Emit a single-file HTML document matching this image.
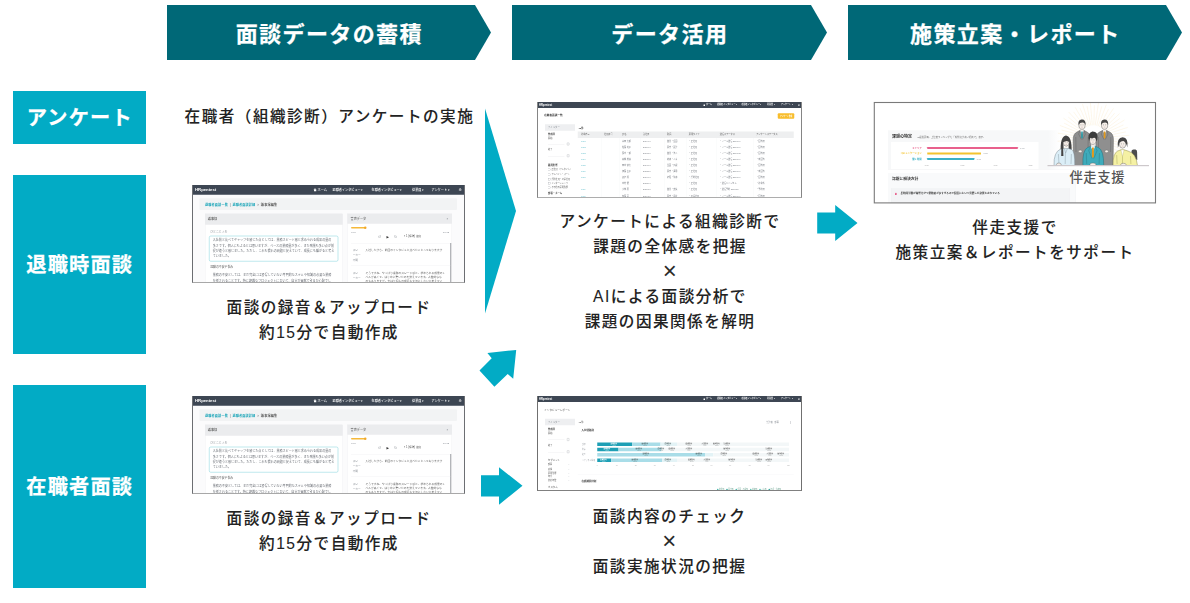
<!DOCTYPE html>
<html lang="ja">
<head>
<meta charset="utf-8">
<title>面談データ活用フロー</title>
<style>
html,body{margin:0;padding:0;background:#fff;}
body{width:1190px;height:603px;overflow:hidden;position:relative;font-family:"Liberation Sans","Noto Sans CJK JP",sans-serif;color:#222;}
#stage{position:absolute;left:0;top:0;width:1190px;height:603px;overflow:hidden;background:#fff;}
.banner{position:absolute;top:5px;height:55px;background:#006877;color:#fff;font-weight:700;font-size:22px;letter-spacing:1.4px;line-height:55px;text-align:center;white-space:nowrap;
  clip-path:polygon(0 0,calc(100% - 16px) 0,100% 50%,calc(100% - 16px) 100%,0 100%);}
.banner span{display:block;position:relative;top:1.6px;left:0.3px;-webkit-text-stroke:0.25px #fff;}
.label{position:absolute;left:13px;width:133px;background:#02abc5;color:#fff;font-weight:700;font-size:20.2px;letter-spacing:1.2px;text-align:center;white-space:nowrap;}
.label span{display:block;position:relative;top:1.2px;left:0.3px;-webkit-text-stroke:0.25px #fff;}
.txt{position:absolute;font-weight:500;font-size:15.6px;letter-spacing:1.48px;line-height:25px;text-align:center;white-space:nowrap;color:#222;padding-left:0.74px;-webkit-text-stroke:0.08px #222;}
.txt .x{display:inline-block;-webkit-text-stroke:0;color:#2a2a2a;font-size:24px;font-weight:400;letter-spacing:0;line-height:25px;height:25px;vertical-align:top;position:relative;top:-1.5px;left:-0.4px;}
svg.arrows{position:absolute;left:0;top:0;}
/* mock screenshots */
.shot{position:absolute;overflow:hidden;background:#fff;}
.shot .m{filter:blur(1.3px);}
.frame{position:absolute;box-sizing:border-box;border:1px solid #6c6e72;border-top:0;pointer-events:none;}
.m{position:absolute;left:0;top:0;transform:scale(.25);transform-origin:0 0;font-size:12.5px;line-height:1;color:#555;white-space:nowrap;overflow:hidden;}
.m *{box-sizing:border-box;}
.m .a{position:absolute;}
.m .bar{position:absolute;left:0;top:0;width:100%;background:#3d4653;color:#fff;}
.m .logo{position:absolute;font-weight:700;color:#fff;}
.m .nav{position:absolute;color:#fff;font-weight:500;}
.m .t{position:absolute;transform:translateY(-50%);}
.m .b{font-weight:700;color:#333;}
.m .teal{color:#1aa5b8;}
.m .g{color:#8a8f96;}
</style>
</head>
<body>
<div id="stage">

<!-- header banners -->
<div class="banner" style="left:167px;width:324px;"><span>面談データの蓄積</span></div>
<div class="banner" style="left:512px;width:315px;"><span>データ活用</span></div>
<div class="banner" style="left:848px;width:334px;"><span>施策立案・レポート</span></div>

<!-- row labels -->
<div class="label" style="top:91px;height:53px;line-height:53px;"><span>アンケート</span></div>
<div class="label" style="top:175px;height:179px;line-height:179px;"><span>退職時面談</span></div>
<div class="label" style="top:385px;height:203px;line-height:203px;"><span>在職者面談</span></div>

<!-- arrows -->
<svg class="arrows" width="1190" height="603" viewBox="0 0 1190 603" aria-hidden="true">
  <g fill="#02abc5">
    <polygon points="485,108.5 516,211 485,313.5"/>
    <polygon points="516.2,350 487.4,352.9 491.7,358.2 479.5,370.6 494.4,386.7 507.7,374.1 513.2,378.8"/>
    <polygon points="481,475.3 499,475.3 499,467.2 522.5,485.8 499,504.7 499,496.6 481,496.6"/>
    <polygon points="817.2,212.6 835.2,212.6 835.2,205.1 857.5,223.1 835.2,241.1 835.2,233.5 817.2,233.5"/>
  </g>
</svg>

<!-- captions -->
<div class="txt" style="left:178.7px;top:103.6px;width:300px;">在職者（組織診断）アンケートの実施</div>
<div class="txt" style="left:178.3px;top:295px;width:300px;">面談の録音＆アップロード<br>約15分で自動作成</div>
<div class="txt" style="left:178.3px;top:506px;width:300px;">面談の録音＆アップロード<br>約15分で自動作成</div>
<div class="txt" style="left:519.3px;top:209px;width:300px;">アンケートによる組織診断で<br>課題の全体感を把握<br><span class="x">×</span><br>AIによる面談分析で<br>課題の因果関係を解明</div>
<div class="txt" style="left:518.9px;top:504px;width:300px;">面談内容のチェック<br><span class="x">×</span><br>面談実施状況の把握</div>
<div class="txt" style="left:864.3px;top:215px;width:300px;">伴走支援で<br>施策立案＆レポートをサポート</div>


<!-- screenshot: interview minutes (retirement) -->
<div class="shot" style="left:192px;top:185px;width:273px;height:98px;">
<div class="m" style="width:1092px;height:392px;background:#fbfbfc;">
<div class="bar" style="height:38.5px;"></div>
<span class="t logo" style="left:12px;top:19.25px;font-size:17px;">HRpentest</span>
<span class="a" style="left:486px;top:13.2px;width:0;height:0;border-left:6.5px solid transparent;border-right:6.5px solid transparent;border-bottom:6.0px solid #fff;"></span>
<span class="a" style="left:488.0px;top:19.2px;width:9.0px;height:5.5px;background:#fff;"></span>
<span class="t nav" style="left:502.0px;top:19.25px;font-size:12.5px;">ホーム</span>
<span class="t nav" style="left:562px;top:19.25px;font-size:12.5px;">退職者インタビュー ▾</span>
<span class="t nav" style="left:718px;top:19.25px;font-size:12.5px;">在職者インタビュー ▾</span>
<span class="t nav" style="left:880px;top:19.25px;font-size:12.5px;">従業員 ▾</span>
<span class="t nav" style="left:958px;top:19.25px;font-size:12.5px;">アンケート ▾</span>
<span class="t nav" style="left:1066px;top:19.25px;font-size:14.5px;font-family:'DejaVu Sans',sans-serif;">⚙</span>
<div class="a" style="left:30px;top:53px;width:1030px;height:47px;background:#f2f3f4;border-radius:4px;"></div>
<span class="t " style="left:52px;top:79.5px;font-weight:700;letter-spacing:0.6px;"><span class="teal">退職者面談一覧</span><span class="g" style="margin:0 7px;">|</span><span class="teal">退職者面談詳細</span><span class="g" style="margin:0 7px;">&gt;</span><span style="color:#555">議事録編集</span></span>
<div class="a" style="left:52px;top:115px;width:551px;height:300px;background:#fff;border:1px solid #e2e3e6;"></div>
<div class="a" style="left:52px;top:115px;width:551px;height:44px;background:#ebecee;"></div>
<span class="t " style="left:63px;top:137px;color:#555;font-weight:500;">議事録</span>
<span class="t g" style="left:73px;top:188px;font-size:11.5px;">ひとことメモ</span>
<div class="a" style="left:68px;top:203px;width:517px;height:103px;background:#fff;border:2px solid #7fd0da;border-radius:7px;"></div>
<span class="t " style="left:83px;top:221.0px;font-size:12.2px;color:#6a6e75;">入社前と比べてギャップを感じた点としては、業務スピード感と求められる成果の量の</span>
<span class="t " style="left:83px;top:242.6px;font-size:12.2px;color:#6a6e75;">多さです。個人にもよるとは思いますが、ベースの業務量が多く、また残業も多い点が前</span>
<span class="t " style="left:83px;top:264.2px;font-size:12.2px;color:#6a6e75;">提が違うと感じました。ただし、これも慣れの問題と捉えていて、成長にも繋がると考え</span>
<span class="t " style="left:83px;top:285.8px;font-size:12.2px;color:#6a6e75;">ていました。</span>
<span class="t g" style="left:73px;top:329px;font-size:11.5px;color:#666;">退職の不安や悩み</span>
<span class="t " style="left:83px;top:361px;font-size:12.2px;color:#6a6e75;">業務の不安としては、まだ完全には習得していない専門的なスキルや知識の必要な業務</span>
<span class="t " style="left:83px;top:383px;font-size:12.2px;color:#6a6e75;">を任されることです。特に複雑なプロジェクトにおいて、自分が貢献できるか心配でし</span>
<div class="a" style="left:621px;top:115px;width:419px;height:300px;background:#fff;border:1px solid #e2e3e6;"></div>
<div class="a" style="left:621px;top:115px;width:419px;height:40px;background:#ebecee;"></div>
<span class="t " style="left:634px;top:135px;color:#555;">音声データ</span>
<span class="t g" style="left:1018px;top:135px;">×</span>
<div class="a" style="left:636px;top:168px;width:58px;height:6px;background:#f6b93b;border-radius:3px;"></div>
<div class="a" style="left:688px;top:166px;width:10px;height:10px;background:#f0a82a;border-radius:5px;"></div>
<span class="t g" style="left:636px;top:188px;font-size:10px;">0:00</span>
<span class="t g" style="left:1000px;top:188px;font-size:10px;">-16:32</span>
<span class="t g" style="left:744px;top:206px;font-size:15px;font-family:'DejaVu Sans',sans-serif;">↺</span>
<span class="t " style="left:778px;top:206px;font-size:13px;color:#333;font-family:'DejaVu Sans',sans-serif;">▶</span>
<span class="t g" style="left:808px;top:206px;font-size:15px;font-family:'DejaVu Sans',sans-serif;">↻</span>
<span class="t " style="left:847px;top:206px;font-size:10.5px;color:#555;">× 1 (標準) 速度</span>
<div class="a" style="left:636px;top:232px;width:398px;height:1px;background:#e4e5e8;"></div>
<div class="a" style="left:1033px;top:232px;width:4px;height:180px;background:#9a9da3;"></div>
<span class="t g" style="left:643px;top:261px;font-size:10.5px;">スピ</span>
<span class="t g" style="left:643px;top:281px;font-size:10.5px;">ーカー</span>
<span class="t g" style="left:643px;top:301px;font-size:10.5px;">不明</span>
<span class="t " style="left:694px;top:261px;font-size:11px;color:#666;">入社したから、前回のインタビュと比べたことってありますか</span>
<div class="a" style="left:636px;top:323px;width:398px;height:1px;background:#e4e5e8;"></div>
<span class="t g" style="left:643px;top:351px;font-size:10.5px;">スピ</span>
<span class="t g" style="left:643px;top:372px;font-size:10.5px;">ーカー</span>
<span class="t " style="left:694px;top:351.0px;font-size:11px;color:#666;">そうですね、やっぱり業務のスピード感と、求められる成果のレ</span>
<span class="t " style="left:694px;top:367.5px;font-size:11px;color:#666;">ベルが高くて、はじめに驚いたのを覚えています。人数的なも</span>
<span class="t " style="left:694px;top:384.0px;font-size:11px;color:#666;">のもありますが、やはり個人の成長も大切にしたいと考えてい</span>
</div></div>
<div class="frame" style="left:192px;top:185px;width:273px;height:98px;border-bottom-color:#a8a8a8;"></div>
<!-- screenshot: interview minutes (current staff) -->
<div class="shot" style="left:192px;top:396px;width:273px;height:98px;">
<div class="m" style="width:1092px;height:392px;background:#fbfbfc;">
<div class="bar" style="height:38.5px;"></div>
<span class="t logo" style="left:12px;top:19.25px;font-size:17px;">HRpentest</span>
<span class="a" style="left:486px;top:13.2px;width:0;height:0;border-left:6.5px solid transparent;border-right:6.5px solid transparent;border-bottom:6.0px solid #fff;"></span>
<span class="a" style="left:488.0px;top:19.2px;width:9.0px;height:5.5px;background:#fff;"></span>
<span class="t nav" style="left:502.0px;top:19.25px;font-size:12.5px;">ホーム</span>
<span class="t nav" style="left:562px;top:19.25px;font-size:12.5px;">退職者インタビュー ▾</span>
<span class="t nav" style="left:718px;top:19.25px;font-size:12.5px;">在職者インタビュー ▾</span>
<span class="t nav" style="left:880px;top:19.25px;font-size:12.5px;">従業員 ▾</span>
<span class="t nav" style="left:958px;top:19.25px;font-size:12.5px;">アンケート ▾</span>
<span class="t nav" style="left:1066px;top:19.25px;font-size:14.5px;font-family:'DejaVu Sans',sans-serif;">⚙</span>
<div class="a" style="left:30px;top:53px;width:1030px;height:47px;background:#f2f3f4;border-radius:4px;"></div>
<span class="t " style="left:52px;top:79.5px;font-weight:700;letter-spacing:0.6px;"><span class="teal">退職者面談一覧</span><span class="g" style="margin:0 7px;">|</span><span class="teal">退職者面談詳細</span><span class="g" style="margin:0 7px;">&gt;</span><span style="color:#555">議事録編集</span></span>
<div class="a" style="left:52px;top:115px;width:551px;height:300px;background:#fff;border:1px solid #e2e3e6;"></div>
<div class="a" style="left:52px;top:115px;width:551px;height:44px;background:#ebecee;"></div>
<span class="t " style="left:63px;top:137px;color:#555;font-weight:500;">議事録</span>
<span class="t g" style="left:73px;top:188px;font-size:11.5px;">ひとことメモ</span>
<div class="a" style="left:68px;top:203px;width:517px;height:103px;background:#fff;border:2px solid #7fd0da;border-radius:7px;"></div>
<span class="t " style="left:83px;top:221.0px;font-size:12.2px;color:#6a6e75;">入社前と比べてギャップを感じた点としては、業務スピード感と求められる成果の量の</span>
<span class="t " style="left:83px;top:242.6px;font-size:12.2px;color:#6a6e75;">多さです。個人にもよるとは思いますが、ベースの業務量が多く、また残業も多い点が前</span>
<span class="t " style="left:83px;top:264.2px;font-size:12.2px;color:#6a6e75;">提が違うと感じました。ただし、これも慣れの問題と捉えていて、成長にも繋がると考え</span>
<span class="t " style="left:83px;top:285.8px;font-size:12.2px;color:#6a6e75;">ていました。</span>
<span class="t g" style="left:73px;top:329px;font-size:11.5px;color:#666;">退職の不安や悩み</span>
<span class="t " style="left:83px;top:361px;font-size:12.2px;color:#6a6e75;">業務の不安としては、まだ完全には習得していない専門的なスキルや知識の必要な業務</span>
<span class="t " style="left:83px;top:383px;font-size:12.2px;color:#6a6e75;">を任されることです。特に複雑なプロジェクトにおいて、自分が貢献できるか心配でし</span>
<div class="a" style="left:621px;top:115px;width:419px;height:300px;background:#fff;border:1px solid #e2e3e6;"></div>
<div class="a" style="left:621px;top:115px;width:419px;height:40px;background:#ebecee;"></div>
<span class="t " style="left:634px;top:135px;color:#555;">音声データ</span>
<span class="t g" style="left:1018px;top:135px;">×</span>
<div class="a" style="left:636px;top:168px;width:58px;height:6px;background:#f6b93b;border-radius:3px;"></div>
<div class="a" style="left:688px;top:166px;width:10px;height:10px;background:#f0a82a;border-radius:5px;"></div>
<span class="t g" style="left:636px;top:188px;font-size:10px;">0:00</span>
<span class="t g" style="left:1000px;top:188px;font-size:10px;">-16:32</span>
<span class="t g" style="left:744px;top:206px;font-size:15px;font-family:'DejaVu Sans',sans-serif;">↺</span>
<span class="t " style="left:778px;top:206px;font-size:13px;color:#333;font-family:'DejaVu Sans',sans-serif;">▶</span>
<span class="t g" style="left:808px;top:206px;font-size:15px;font-family:'DejaVu Sans',sans-serif;">↻</span>
<span class="t " style="left:847px;top:206px;font-size:10.5px;color:#555;">× 1 (標準) 速度</span>
<div class="a" style="left:636px;top:232px;width:398px;height:1px;background:#e4e5e8;"></div>
<div class="a" style="left:1033px;top:232px;width:4px;height:180px;background:#9a9da3;"></div>
<span class="t g" style="left:643px;top:261px;font-size:10.5px;">スピ</span>
<span class="t g" style="left:643px;top:281px;font-size:10.5px;">ーカー</span>
<span class="t g" style="left:643px;top:301px;font-size:10.5px;">不明</span>
<span class="t " style="left:694px;top:261px;font-size:11px;color:#666;">入社したから、前回のインタビュと比べたことってありますか</span>
<div class="a" style="left:636px;top:323px;width:398px;height:1px;background:#e4e5e8;"></div>
<span class="t g" style="left:643px;top:351px;font-size:10.5px;">スピ</span>
<span class="t g" style="left:643px;top:372px;font-size:10.5px;">ーカー</span>
<span class="t " style="left:694px;top:351.0px;font-size:11px;color:#666;">そうですね、やっぱり業務のスピード感と、求められる成果のレ</span>
<span class="t " style="left:694px;top:367.5px;font-size:11px;color:#666;">ベルが高くて、はじめに驚いたのを覚えています。人数的なも</span>
<span class="t " style="left:694px;top:384.0px;font-size:11px;color:#666;">のもありますが、やはり個人の成長も大切にしたいと考えてい</span>
</div></div>
<div class="frame" style="left:192px;top:396px;width:273px;height:98px;border-bottom-color:#a8a8a8;"></div>
<!-- screenshot: survey list -->
<div class="shot" style="left:537px;top:102px;width:265px;height:96px;">
<div class="m" style="width:1060px;height:384px;background:#fff;font-size:9px;">
<div class="bar" style="height:24px;"></div>
<span class="t logo" style="left:8px;top:12.0px;font-size:10.5px;">HRpentest</span>
<span class="a" style="left:665px;top:8.1px;width:0;height:0;border-left:4.3px solid transparent;border-right:4.3px solid transparent;border-bottom:3.9px solid #fff;"></span>
<span class="a" style="left:666.3px;top:12.0px;width:5.9px;height:3.6px;background:#fff;"></span>
<span class="t nav" style="left:675.5px;top:12.0px;font-size:8.2px;">ホーム</span>
<span class="t nav" style="left:720px;top:12.0px;font-size:8.2px;">退職者インタビュー ▾</span>
<span class="t nav" style="left:818px;top:12.0px;font-size:8.2px;">在職者インタビュー ▾</span>
<span class="t nav" style="left:920px;top:12.0px;font-size:8.2px;">従業員 ▾</span>
<span class="t nav" style="left:976px;top:12.0px;font-size:8.2px;">アンケート ▾</span>
<span class="t nav" style="left:1043px;top:12.0px;font-size:10.2px;font-family:'DejaVu Sans',sans-serif;">⚙</span>
<span class="t b" style="left:29px;top:54px;font-size:10.5px;">在職者面談一覧</span>
<div class="a" style="left:963px;top:45px;width:66px;height:22px;background:#f8bd2c;border-radius:4px;"></div>
<span class="t " style="left:972px;top:56px;font-size:7px;color:#fff;font-weight:700;">アンケート作成</span>
<div class="a" style="left:32px;top:89px;width:120px;height:26px;background:#eeeff1;"></div>
<span class="t g" style="left:44px;top:102px;font-size:9.5px;">フィルター</span>
<span class="t b" style="left:44px;top:129px;font-size:9.5px;">作成日</span>
<span class="t " style="left:44px;top:144px;font-size:8.5px;color:#555;">開始</span>
<div class="a" style="left:44px;top:169px;width:66px;height:1px;background:#dcdde0;"></div>
<div class="a" style="left:120px;top:163px;width:9px;height:10px;border:1.5px solid #8a8f96;border-radius:1px;"></div>
<span class="t " style="left:44px;top:191px;font-size:8.5px;color:#555;">終了</span>
<div class="a" style="left:44px;top:216px;width:66px;height:1px;background:#dcdde0;"></div>
<div class="a" style="left:120px;top:210px;width:9px;height:10px;border:1.5px solid #8a8f96;border-radius:1px;"></div>
<span class="t b" style="left:44px;top:252px;font-size:9.5px;">雇用形態</span>
<div class="a" style="left:46px;top:267px;width:7px;height:7px;border:1px solid #8a8f96;"></div>
<span class="t " style="left:58px;top:271px;font-size:8.2px;color:#666;">正社員（フルタイム）</span>
<div class="a" style="left:46px;top:287px;width:7px;height:7px;border:1px solid #8a8f96;"></div>
<span class="t " style="left:58px;top:291px;font-size:8.2px;color:#666;">アルバイト・パート</span>
<div class="a" style="left:46px;top:306px;width:7px;height:7px;border:1px solid #8a8f96;"></div>
<span class="t " style="left:58px;top:310px;font-size:8.2px;color:#666;">契約社員・派遣社員</span>
<div class="a" style="left:46px;top:322px;width:7px;height:7px;border:1px solid #8a8f96;"></div>
<span class="t " style="left:58px;top:326px;font-size:8.2px;color:#666;">インターンシップ</span>
<div class="a" style="left:46px;top:339px;width:7px;height:7px;border:1px solid #8a8f96;"></div>
<span class="t " style="left:58px;top:343px;font-size:8.2px;color:#666;">その他の雇用形態</span>
<span class="t b" style="left:44px;top:366px;font-size:9.5px;">部署・チーム</span>
<span class="t b" style="left:166px;top:103px;font-size:9.5px;">12件</span>
<div class="a" style="left:163px;top:118px;width:864px;height:26px;background:#eeeff0;"></div>
<span class="t " style="left:176px;top:131px;font-size:8.6px;color:#666;">対象者ID</span>
<span class="t " style="left:268px;top:131px;font-size:8.6px;color:#666;">社員番号</span>
<span class="t " style="left:340px;top:131px;font-size:8.6px;color:#666;">氏名</span>
<span class="t " style="left:424px;top:131px;font-size:8.6px;color:#666;">入社日</span>
<span class="t " style="left:520px;top:131px;font-size:8.6px;color:#666;">所属</span>
<span class="t " style="left:607px;top:131px;font-size:8.6px;color:#666;">雇用タイプ</span>
<span class="t " style="left:731px;top:131px;font-size:8.6px;color:#666;">送信ステータス</span>
<span class="t " style="left:877px;top:131px;font-size:8.6px;color:#666;">アンケートステータス</span>
<div class="a" style="left:256px;top:144px;width:1px;height:240px;background:#eef0f2;"></div>
<div class="a" style="left:330px;top:144px;width:1px;height:240px;background:#eef0f2;"></div>
<div class="a" style="left:414px;top:144px;width:1px;height:240px;background:#eef0f2;"></div>
<div class="a" style="left:508px;top:144px;width:1px;height:240px;background:#eef0f2;"></div>
<div class="a" style="left:596px;top:144px;width:1px;height:240px;background:#eef0f2;"></div>
<div class="a" style="left:718px;top:144px;width:1px;height:240px;background:#eef0f2;"></div>
<div class="a" style="left:866px;top:144px;width:1px;height:240px;background:#eef0f2;"></div>
<span class="t " style="left:176px;top:157.0px;font-size:8.4px;color:#6cc3cf;">1021</span>
<span class="t " style="left:340px;top:157.0px;font-size:8.4px;color:#777b82;">山田 太郎</span>
<span class="t " style="left:424px;top:157.0px;font-size:8.4px;color:#777b82;">2019/04</span>
<span class="t " style="left:520px;top:157.0px;font-size:8.4px;color:#777b82;">営業・企画</span>
<span class="t " style="left:607px;top:157.0px;font-size:8.4px;color:#777b82;">・正社員</span>
<span class="t " style="left:731px;top:157.0px;font-size:8.4px;color:#777b82;">・メール送信 2024/04</span>
<span class="t " style="left:877px;top:157.0px;font-size:8.4px;color:#777b82;">・回答済</span>
<span class="t " style="left:176px;top:181.3px;font-size:8.4px;color:#6cc3cf;">1022</span>
<span class="t " style="left:340px;top:181.3px;font-size:8.4px;color:#777b82;">佐藤 花子</span>
<span class="t " style="left:424px;top:181.3px;font-size:8.4px;color:#777b82;">2020/04</span>
<span class="t " style="left:520px;top:181.3px;font-size:8.4px;color:#777b82;">開発・設計</span>
<span class="t " style="left:607px;top:181.3px;font-size:8.4px;color:#777b82;">・正社員</span>
<span class="t " style="left:731px;top:181.3px;font-size:8.4px;color:#777b82;">・メール送信 2024/04</span>
<span class="t " style="left:877px;top:181.3px;font-size:8.4px;color:#777b82;">・回答済</span>
<span class="t " style="left:176px;top:205.6px;font-size:8.4px;color:#6cc3cf;">1023</span>
<span class="t " style="left:340px;top:205.6px;font-size:8.4px;color:#777b82;">鈴木 一郎</span>
<span class="t " style="left:424px;top:205.6px;font-size:8.4px;color:#777b82;">2018/10</span>
<span class="t " style="left:520px;top:205.6px;font-size:8.4px;color:#777b82;">営業・法人</span>
<span class="t " style="left:607px;top:205.6px;font-size:8.4px;color:#777b82;">・正社員</span>
<span class="t " style="left:731px;top:205.6px;font-size:8.4px;color:#777b82;">・メール送信 2024/03</span>
<span class="t " style="left:877px;top:205.6px;font-size:8.4px;color:#777b82;">・回答済</span>
<span class="t " style="left:176px;top:229.9px;font-size:8.4px;color:#6cc3cf;">1024</span>
<span class="t " style="left:340px;top:229.9px;font-size:8.4px;color:#777b82;">高橋 美咲</span>
<span class="t " style="left:424px;top:229.9px;font-size:8.4px;color:#777b82;">2021/04</span>
<span class="t " style="left:520px;top:229.9px;font-size:8.4px;color:#777b82;">総務・人事</span>
<span class="t " style="left:607px;top:229.9px;font-size:8.4px;color:#777b82;">・正社員</span>
<span class="t " style="left:731px;top:229.9px;font-size:8.4px;color:#777b82;">・メール送信 2024/04</span>
<span class="t " style="left:877px;top:229.9px;font-size:8.4px;color:#777b82;">・未回答</span>
<span class="t " style="left:176px;top:254.2px;font-size:8.4px;color:#6cc3cf;">1025</span>
<span class="t " style="left:340px;top:254.2px;font-size:8.4px;color:#777b82;">田中 健太</span>
<span class="t " style="left:424px;top:254.2px;font-size:8.4px;color:#777b82;">2017/04</span>
<span class="t " style="left:520px;top:254.2px;font-size:8.4px;color:#777b82;">企画・広報</span>
<span class="t " style="left:607px;top:254.2px;font-size:8.4px;color:#777b82;">・正社員</span>
<span class="t " style="left:731px;top:254.2px;font-size:8.4px;color:#777b82;">・メール送信 2024/04</span>
<span class="t " style="left:877px;top:254.2px;font-size:8.4px;color:#777b82;">・回答済</span>
<span class="t " style="left:176px;top:278.5px;font-size:8.4px;color:#6cc3cf;">1026</span>
<span class="t " style="left:340px;top:278.5px;font-size:8.4px;color:#777b82;">伊藤 直子</span>
<span class="t " style="left:424px;top:278.5px;font-size:8.4px;color:#777b82;">2022/10</span>
<span class="t " style="left:520px;top:278.5px;font-size:8.4px;color:#777b82;">開発・運用</span>
<span class="t " style="left:607px;top:278.5px;font-size:8.4px;color:#777b82;">・正社員</span>
<span class="t " style="left:731px;top:278.5px;font-size:8.4px;color:#777b82;">・メール送信 2024/04</span>
<span class="t " style="left:877px;top:278.5px;font-size:8.4px;color:#777b82;">・未回答</span>
<span class="t " style="left:176px;top:302.8px;font-size:8.4px;color:#6cc3cf;">1027</span>
<span class="t " style="left:340px;top:302.8px;font-size:8.4px;color:#777b82;">渡辺 翔</span>
<span class="t " style="left:424px;top:302.8px;font-size:8.4px;color:#777b82;">2016/04</span>
<span class="t " style="left:520px;top:302.8px;font-size:8.4px;color:#777b82;">経理・財務</span>
<span class="t " style="left:607px;top:302.8px;font-size:8.4px;color:#777b82;">・契約社員</span>
<span class="t " style="left:731px;top:302.8px;font-size:8.4px;color:#777b82;">・メール送信 2024/04</span>
<span class="t " style="left:877px;top:302.8px;font-size:8.4px;color:#777b82;">・回答済</span>
<span class="t " style="left:340px;top:327.1px;font-size:8.4px;color:#777b82;">中村 優</span>
<span class="t " style="left:424px;top:327.1px;font-size:8.4px;color:#777b82;">2023/04</span>
<span class="t " style="left:607px;top:327.1px;font-size:8.4px;color:#777b82;">・正社員</span>
<span class="t " style="left:731px;top:327.1px;font-size:8.4px;color:#777b82;">・送信キャンセル</span>
<span class="t " style="left:877px;top:327.1px;font-size:8.4px;color:#777b82;">・対象外</span>
<span class="t " style="left:176px;top:351.4px;font-size:8.4px;color:#6cc3cf;">1029</span>
<span class="t " style="left:340px;top:351.4px;font-size:8.4px;color:#777b82;">小林 葵</span>
<span class="t " style="left:424px;top:351.4px;font-size:8.4px;color:#777b82;">2020/10</span>
<span class="t " style="left:520px;top:351.4px;font-size:8.4px;color:#777b82;">営業・支援</span>
<span class="t " style="left:607px;top:351.4px;font-size:8.4px;color:#777b82;">・正社員</span>
<span class="t " style="left:731px;top:351.4px;font-size:8.4px;color:#777b82;">・送信予約 2024/05</span>
<span class="t " style="left:877px;top:351.4px;font-size:8.4px;color:#777b82;">・予約済</span>
<span class="t " style="left:176px;top:375.7px;font-size:8.4px;color:#6cc3cf;">1030</span>
<span class="t " style="left:340px;top:375.7px;font-size:8.4px;color:#777b82;">加藤 蓮</span>
<span class="t " style="left:424px;top:375.7px;font-size:8.4px;color:#777b82;">2019/10</span>
<span class="t " style="left:520px;top:375.7px;font-size:8.4px;color:#777b82;">開発・品質</span>
<span class="t " style="left:607px;top:375.7px;font-size:8.4px;color:#777b82;">・派遣社員</span>
<span class="t " style="left:731px;top:375.7px;font-size:8.4px;color:#777b82;">・メール送信 2024/04</span>
<span class="t " style="left:877px;top:375.7px;font-size:8.4px;color:#777b82;">・回答済</span>
</div></div>
<div class="frame" style="left:537px;top:102px;width:265px;height:96px;border-color:#858585;border-bottom-color:#adadad;"></div>
<!-- screenshot: interview report -->
<div class="shot" style="left:537px;top:396px;width:265px;height:95px;">
<div class="m" style="width:1060px;height:380px;background:#fff;font-size:9px;">
<div class="bar" style="height:24px;"></div>
<span class="t logo" style="left:8px;top:12.0px;font-size:10.5px;">HRpentest</span>
<span class="a" style="left:665px;top:8.1px;width:0;height:0;border-left:4.3px solid transparent;border-right:4.3px solid transparent;border-bottom:3.9px solid #fff;"></span>
<span class="a" style="left:666.3px;top:12.0px;width:5.9px;height:3.6px;background:#fff;"></span>
<span class="t nav" style="left:675.5px;top:12.0px;font-size:8.2px;">ホーム</span>
<span class="t nav" style="left:720px;top:12.0px;font-size:8.2px;">退職者インタビュー ▾</span>
<span class="t nav" style="left:818px;top:12.0px;font-size:8.2px;">在職者インタビュー ▾</span>
<span class="t nav" style="left:920px;top:12.0px;font-size:8.2px;">従業員 ▾</span>
<span class="t nav" style="left:976px;top:12.0px;font-size:8.2px;">アンケート ▾</span>
<span class="t nav" style="left:1043px;top:12.0px;font-size:10.2px;font-family:'DejaVu Sans',sans-serif;">⚙</span>
<span class="t " style="left:29px;top:56px;font-size:10.5px;color:#555;">インタビューレポート</span>
<div class="a" style="left:32px;top:91px;width:120px;height:26px;background:#eeeff1;"></div>
<span class="t g" style="left:44px;top:104px;font-size:9.5px;">フィルター</span>
<span class="t b" style="left:44px;top:133px;font-size:9.5px;">作成日</span>
<span class="t " style="left:44px;top:150px;font-size:8.5px;color:#555;">開始</span>
<div class="a" style="left:44px;top:175px;width:66px;height:1px;background:#dcdde0;"></div>
<div class="a" style="left:120px;top:169px;width:9px;height:10px;border:1.5px solid #8a8f96;border-radius:1px;"></div>
<span class="t " style="left:44px;top:197px;font-size:8.5px;color:#555;">終了</span>
<div class="a" style="left:44px;top:224px;width:66px;height:1px;background:#dcdde0;"></div>
<div class="a" style="left:120px;top:218px;width:9px;height:10px;border:1.5px solid #8a8f96;border-radius:1px;"></div>
<span class="t " style="left:44px;top:257px;font-size:9.5px;color:#555;">セグメント</span>
<span class="t " style="left:44px;top:275px;font-size:8.4px;color:#666;">部署</span>
<span class="t g" style="left:124px;top:275px;font-size:8px;">⌄</span>
<span class="t " style="left:44px;top:292px;font-size:8.4px;color:#666;">職種</span>
<span class="t g" style="left:124px;top:292px;font-size:8px;">⌄</span>
<span class="t " style="left:44px;top:308px;font-size:8.4px;color:#666;">雇用形態</span>
<span class="t g" style="left:124px;top:308px;font-size:8px;">⌄</span>
<span class="t " style="left:44px;top:323px;font-size:8.4px;color:#666;">年代</span>
<span class="t g" style="left:124px;top:323px;font-size:8px;">⌄</span>
<span class="t " style="left:44px;top:339px;font-size:8.4px;color:#666;">勤続年数</span>
<span class="t g" style="left:124px;top:339px;font-size:8px;">⌄</span>
<span class="t " style="left:44px;top:365px;font-size:9.5px;color:#555;">カスタム</span>
<span class="t " style="left:166px;top:104px;font-size:9.5px;color:#555;">12件</span>
<span class="t g" style="left:917px;top:104px;font-size:8.4px;">集計軸　部署</span>
<span class="t g" style="left:1008px;top:104px;font-size:10px;">⋮</span>
<span class="t b" style="left:178px;top:137px;font-size:10px;">入社経路別</span>
<span class="t g" style="left:180px;top:193px;font-size:7.5px;color:#a0a4aa;">新卒</span>
<div class="a" style="left:241px;top:186px;width:140px;height:14px;background:#1d9fb5;"></div>
<div class="a" style="left:381px;top:186px;width:113px;height:14px;background:#a9dde8;"></div>
<div class="a" style="left:494px;top:186px;width:66px;height:14px;background:#e3f3f6;"></div>
<div class="a" style="left:560px;top:186px;width:448px;height:14px;background:#f3f7f8;"></div>
<span class="t g" style="left:180px;top:214px;font-size:7.5px;color:#a0a4aa;">中途</span>
<div class="a" style="left:241px;top:207px;width:85px;height:14px;background:#1d9fb5;"></div>
<div class="a" style="left:326px;top:207px;width:172px;height:14px;background:#a9dde8;"></div>
<div class="a" style="left:498px;top:207px;width:510px;height:14px;background:#f3f7f8;"></div>
<span class="t g" style="left:180px;top:235px;font-size:7.5px;color:#a0a4aa;">紹介</span>
<div class="a" style="left:241px;top:228px;width:431px;height:14px;background:#a9dde8;"></div>
<div class="a" style="left:672px;top:228px;width:33px;height:14px;background:#e3f3f6;"></div>
<div class="a" style="left:705px;top:228px;width:303px;height:14px;background:#f3f7f8;"></div>
<span class="t g" style="left:180px;top:257px;font-size:7.5px;color:#a0a4aa;">リファラル採用</span>
<div class="a" style="left:241px;top:250px;width:56px;height:14px;background:#1d9fb5;"></div>
<div class="a" style="left:297px;top:250px;width:204px;height:14px;background:#a9dde8;"></div>
<div class="a" style="left:501px;top:250px;width:59px;height:14px;background:#e3f3f6;"></div>
<div class="a" style="left:560px;top:250px;width:448px;height:14px;background:#f3f7f8;"></div>
<span class="t " style="left:294px;top:190px;font-size:6.6px;font-weight:700;color:#fff;">営業部門</span>
<span class="t " style="left:302px;top:197px;font-size:5px;color:#fff;opacity:.7;">18.0%</span>
<span class="t " style="left:418px;top:190px;font-size:6.6px;font-weight:700;color:#566;">開発部門</span>
<span class="t " style="left:426px;top:197px;font-size:5px;color:#566;opacity:.7;">25.0%</span>
<span class="t " style="left:510px;top:190px;font-size:6.6px;font-weight:700;color:#566;">企画部門</span>
<span class="t " style="left:518px;top:197px;font-size:5px;color:#566;opacity:.7;">32.0%</span>
<span class="t " style="left:594px;top:190px;font-size:6.6px;font-weight:700;color:#666;">総務部門</span>
<span class="t " style="left:602px;top:197px;font-size:5px;color:#666;opacity:.7;">39.0%</span>
<span class="t " style="left:658px;top:190px;font-size:6.6px;font-weight:700;color:#666;">人事部門</span>
<span class="t " style="left:666px;top:197px;font-size:5px;color:#666;opacity:.7;">6.0%</span>
<span class="t " style="left:704px;top:190px;font-size:6.6px;font-weight:700;color:#666;">経理部門</span>
<span class="t " style="left:712px;top:197px;font-size:5px;color:#666;opacity:.7;">13.0%</span>
<span class="t " style="left:746px;top:190px;font-size:6.6px;font-weight:700;color:#666;">法務部門</span>
<span class="t " style="left:754px;top:197px;font-size:5px;color:#666;opacity:.7;">20.0%</span>
<span class="t " style="left:266px;top:211px;font-size:6.6px;font-weight:700;color:#fff;">営業部門</span>
<span class="t " style="left:274px;top:218px;font-size:5px;color:#fff;opacity:.7;">18.0%</span>
<span class="t " style="left:394px;top:211px;font-size:6.6px;font-weight:700;color:#566;">開発部門</span>
<span class="t " style="left:402px;top:218px;font-size:5px;color:#566;opacity:.7;">25.0%</span>
<span class="t " style="left:482px;top:211px;font-size:6.6px;font-weight:700;color:#566;">企画部門</span>
<span class="t " style="left:490px;top:218px;font-size:5px;color:#566;opacity:.7;">32.0%</span>
<span class="t " style="left:526px;top:211px;font-size:6.6px;font-weight:700;color:#666;">総務部門</span>
<span class="t " style="left:534px;top:218px;font-size:5px;color:#666;opacity:.7;">39.0%</span>
<span class="t " style="left:594px;top:211px;font-size:6.6px;font-weight:700;color:#666;">人事部門</span>
<span class="t " style="left:602px;top:218px;font-size:5px;color:#666;opacity:.7;">6.0%</span>
<span class="t " style="left:746px;top:211px;font-size:6.6px;font-weight:700;color:#666;">経理部門</span>
<span class="t " style="left:754px;top:218px;font-size:5px;color:#666;opacity:.7;">13.0%</span>
<span class="t " style="left:914px;top:211px;font-size:6.6px;font-weight:700;color:#666;">法務部門</span>
<span class="t " style="left:922px;top:218px;font-size:5px;color:#666;opacity:.7;">20.0%</span>
<span class="t " style="left:422px;top:232px;font-size:6.6px;font-weight:700;color:#566;">営業部門</span>
<span class="t " style="left:430px;top:239px;font-size:5px;color:#566;opacity:.7;">18.0%</span>
<span class="t " style="left:634px;top:232px;font-size:6.6px;font-weight:700;color:#566;">開発部門</span>
<span class="t " style="left:642px;top:239px;font-size:5px;color:#566;opacity:.7;">25.0%</span>
<span class="t " style="left:734px;top:232px;font-size:6.6px;font-weight:700;color:#666;">企画部門</span>
<span class="t " style="left:742px;top:239px;font-size:5px;color:#666;opacity:.7;">32.0%</span>
<span class="t " style="left:862px;top:232px;font-size:6.6px;font-weight:700;color:#666;">総務部門</span>
<span class="t " style="left:870px;top:239px;font-size:5px;color:#666;opacity:.7;">39.0%</span>
<span class="t " style="left:918px;top:232px;font-size:6.6px;font-weight:700;color:#666;">人事部門</span>
<span class="t " style="left:926px;top:239px;font-size:5px;color:#666;opacity:.7;">6.0%</span>
<span class="t " style="left:962px;top:232px;font-size:6.6px;font-weight:700;color:#666;">経理部門</span>
<span class="t " style="left:970px;top:239px;font-size:5px;color:#666;opacity:.7;">13.0%</span>
<span class="t " style="left:252px;top:254px;font-size:6.6px;font-weight:700;color:#fff;">営業部門</span>
<span class="t " style="left:260px;top:261px;font-size:5px;color:#fff;opacity:.7;">18.0%</span>
<span class="t " style="left:378px;top:254px;font-size:6.6px;font-weight:700;color:#566;">開発部門</span>
<span class="t " style="left:386px;top:261px;font-size:5px;color:#566;opacity:.7;">25.0%</span>
<span class="t " style="left:510px;top:254px;font-size:6.6px;font-weight:700;color:#566;">企画部門</span>
<span class="t " style="left:518px;top:261px;font-size:5px;color:#566;opacity:.7;">32.0%</span>
<span class="t " style="left:604px;top:254px;font-size:6.6px;font-weight:700;color:#666;">総務部門</span>
<span class="t " style="left:612px;top:261px;font-size:5px;color:#666;opacity:.7;">39.0%</span>
<span class="t " style="left:666px;top:254px;font-size:6.6px;font-weight:700;color:#666;">人事部門</span>
<span class="t " style="left:674px;top:261px;font-size:5px;color:#666;opacity:.7;">6.0%</span>
<span class="t " style="left:766px;top:254px;font-size:6.6px;font-weight:700;color:#666;">経理部門</span>
<span class="t " style="left:774px;top:261px;font-size:5px;color:#666;opacity:.7;">13.0%</span>
<span class="t " style="left:874px;top:254px;font-size:6.6px;font-weight:700;color:#666;">法務部門</span>
<span class="t " style="left:882px;top:261px;font-size:5px;color:#666;opacity:.7;">20.0%</span>
<span class="t " style="left:914px;top:254px;font-size:6.6px;font-weight:700;color:#666;">広報部門</span>
<span class="t " style="left:922px;top:261px;font-size:5px;color:#666;opacity:.7;">27.0%</span>
<span class="t g" style="left:239px;top:277px;font-size:6.5px;color:#aaa;">0</span>
<span class="t g" style="left:315px;top:277px;font-size:6.5px;color:#aaa;">10</span>
<span class="t g" style="left:391px;top:277px;font-size:6.5px;color:#aaa;">20</span>
<span class="t g" style="left:467px;top:277px;font-size:6.5px;color:#aaa;">30</span>
<span class="t g" style="left:543px;top:277px;font-size:6.5px;color:#aaa;">40</span>
<span class="t g" style="left:620px;top:277px;font-size:6.5px;color:#aaa;">50</span>
<span class="t g" style="left:694px;top:277px;font-size:6.5px;color:#aaa;">60</span>
<span class="t g" style="left:769px;top:277px;font-size:6.5px;color:#aaa;">70</span>
<span class="t g" style="left:847px;top:277px;font-size:6.5px;color:#aaa;">80</span>
<span class="t g" style="left:922px;top:277px;font-size:6.5px;color:#aaa;">90</span>
<span class="t g" style="left:1000px;top:277px;font-size:6.5px;color:#aaa;">100</span>
<div class="a" style="left:163px;top:314px;width:864px;height:1px;background:#eceef0;"></div>
<span class="t b" style="left:178px;top:339px;font-size:10px;">在籍期間分析</span>
<div class="a" style="left:720px;top:371px;width:6px;height:6px;background:#3fb6a8;border-radius:3px;"></div>
<span class="t " style="left:728px;top:374px;font-size:7px;color:#7a9;">営業部</span>
<div class="a" style="left:757px;top:371px;width:6px;height:6px;background:#2aa198;border-radius:3px;"></div>
<span class="t " style="left:765px;top:374px;font-size:7px;color:#7a9;">開発部</span>
<div class="a" style="left:794px;top:371px;width:6px;height:6px;background:#3fb6a8;border-radius:3px;"></div>
<span class="t " style="left:802px;top:374px;font-size:7px;color:#7a9;">企画・広報部</span>
<div class="a" style="left:852px;top:371px;width:6px;height:6px;background:#56c2b0;border-radius:3px;"></div>
<span class="t " style="left:860px;top:374px;font-size:7px;color:#7a9;">総務部</span>
<div class="a" style="left:889px;top:371px;width:6px;height:6px;background:#3fb6a8;border-radius:3px;"></div>
<span class="t " style="left:897px;top:374px;font-size:7px;color:#7a9;">人事部</span>
<div class="a" style="left:926px;top:371px;width:6px;height:6px;background:#2aa198;border-radius:3px;"></div>
<span class="t " style="left:934px;top:374px;font-size:7px;color:#7a9;">経理・法務部</span>
</div></div>
<div class="frame" style="left:537px;top:396px;width:265px;height:95px;border-color:#707070;border-bottom-color:#808080;"></div>
<!-- screenshot: support report -->
<div class="shot" style="left:874px;top:102px;width:282px;height:101px;">
<div class="m" style="width:1128px;height:404px;background:#fff;font-size:10px;">
<div class="a" style="left:56px;top:113px;width:690px;height:157px;background:linear-gradient(90deg,#f7f8f9 0,#f7f8f9 640px,#fff 690px);"></div>
<div class="a" style="left:68px;top:160px;width:590px;height:108px;background:#fff;"></div>
<span class="t b" style="left:72px;top:140px;font-size:16px;">課題の特定</span>
<span class="t g" style="left:172px;top:141px;font-size:9.5px;color:#777;">(5段階評価。上位者ランキングを「影響度が高い順番で」表示)</span>
<span class="t" style="right:937px;top:184px;font-size:9.5px;font-weight:700;color:#e8608c;">キャリア</span>
<div class="a" style="left:213px;top:180px;width:362px;height:8px;background:#e8608c;border-radius:1px;"></div>
<span class="t g" style="left:585px;top:184px;font-size:8.5px;">1.45</span>
<span class="t" style="right:937px;top:206px;font-size:9.5px;font-weight:700;color:#f3c32f;">コミュニケーション</span>
<div class="a" style="left:213px;top:202px;width:215px;height:8px;background:#f3c32f;border-radius:1px;"></div>
<span class="t g" style="left:438px;top:206px;font-size:8.5px;">0.87</span>
<span class="t" style="right:937px;top:228px;font-size:9.5px;font-weight:700;color:#3bb1c6;">働く時間</span>
<div class="a" style="left:213px;top:224px;width:188px;height:8px;background:#3bb1c6;border-radius:1px;"></div>
<span class="t g" style="left:411px;top:228px;font-size:8.5px;">0.76</span>
<span class="t g" style="left:203px;top:254px;font-size:8px;color:#999;">0.00</span>
<span class="t g" style="left:346px;top:254px;font-size:8px;color:#999;">0.50</span>
<span class="t g" style="left:478px;top:254px;font-size:8px;color:#999;">1.00</span>
<span class="t g" style="left:618px;top:254px;font-size:8px;color:#999;">1.50</span>
<div class="a" style="left:56px;top:270px;width:750px;height:1px;background:#e9ebee;"></div>
<div class="a" style="left:56px;top:284px;width:750px;height:120px;background:#f9fafb;"></div>
<span class="t b" style="left:72px;top:306px;font-size:15px;">課題と解決方針</span>
<div class="a" style="left:68px;top:346px;width:716px;height:58px;background:#f3f4f6;border:1px solid #eceef0;"></div>
<div class="a" style="left:84px;top:363px;width:7px;height:9px;background:#e8608c;border-radius:4px 4px 4px 0;"></div>
<span class="t b" style="left:106px;top:367px;font-size:10.2px;color:#3a3a3a;">長時間労働が常態化かつ業務量が多すぎるので配置において見直しが必要とされている</span>
<div class="a" style="left:806px;top:268px;width:1px;height:136px;background:#e6e8eb;"></div>
</div></div>
<svg class="arrows" width="1190" height="603" viewBox="0 0 1190 603" aria-hidden="true">
<defs><clipPath id="pc"><rect x="1045" y="103" width="110" height="62.6"/></clipPath></defs>
<g clip-path="url(#pc)">
<path d="M1106.4,138.7L1126.4,139.3M1106.3,140.1L1129.0,143.4M1106.0,141.6L1125.3,146.6M1105.5,143.0L1127.0,151.2M1104.9,144.3L1122.7,153.5M1104.2,145.5L1123.3,158.4M1103.3,146.7L1118.6,159.6M1102.3,147.8L1118.1,164.5M1101.2,148.7L1113.2,164.7M1100.0,149.5L1111.6,169.3M1098.7,150.2L1106.8,168.4M1097.3,150.7L1104.3,172.6M1095.9,151.1L1099.8,170.7M1094.5,151.3L1096.4,174.2M1093.0,151.3L1092.4,171.3M1091.6,151.2L1088.3,173.9M1090.1,150.9L1085.1,170.2M1088.7,150.4L1080.5,171.9M1087.4,149.8L1078.2,167.6M1086.2,149.1L1073.3,168.2M1085.0,148.2L1072.1,163.5M1083.9,147.2L1067.2,163.0M1083.0,146.1L1067.0,158.1M1082.2,144.9L1062.4,156.5M1081.5,143.6L1063.3,151.7M1081.0,142.2L1059.1,149.2M1080.6,140.8L1061.0,144.7M1080.4,139.4L1057.5,141.3M1080.4,137.9L1060.4,137.3M1080.5,136.5L1057.8,133.2M1080.8,135.0L1061.5,130.0M1081.3,133.6L1059.8,125.4M1081.9,132.3L1064.1,123.1M1082.6,131.1L1063.5,118.2M1083.5,129.9L1068.2,117.0M1084.5,128.8L1068.7,112.1M1085.6,127.9L1073.6,111.9M1086.8,127.1L1075.2,107.3M1088.1,126.4L1080.0,108.2M1089.5,125.9L1082.5,104.0M1090.9,125.5L1087.0,105.9M1092.3,125.3L1090.4,102.4M1093.8,125.3L1094.4,105.3M1095.2,125.4L1098.5,102.7M1096.7,125.7L1101.7,106.4M1098.1,126.2L1106.3,104.7M1099.4,126.8L1108.6,109.0M1100.6,127.5L1113.5,108.4M1101.8,128.4L1114.7,113.1M1102.9,129.4L1119.6,113.6M1103.8,130.5L1119.8,118.5M1104.6,131.7L1124.4,120.1M1105.3,133.0L1123.5,124.9M1105.8,134.4L1127.7,127.4M1106.2,135.8L1125.8,131.9M1106.4,137.2L1129.3,135.3" stroke="#fbeccd" stroke-width="0.55" fill="none" opacity="0.75"/>
<path d="M1073.6,165.6 L1073.2,140 Q1073.0,133.6 1077.4,131.8 L1080.2,130.3 L1083.8,130.3 L1086.6,131.8 Q1091.0,133.6 1090.8,140 L1090.4,165.6 Z" fill="#8f8f8f" stroke="#5a5a5a" stroke-width="0.5"/>
<path d="M1080.1,130.2 L1082.0,134.6 L1083.9,130.2 Z" fill="#fff"/>
<path d="M1081.2,131.4 L1082.8,131.4 L1082.9,137.6 L1082.0,139 L1081.1,137.6 Z" fill="#2f9aa6"/>
<path d="M1080.1,130.4 L1078.6,134 L1081.4,139.6 M1083.9,130.4 L1085.4,134 L1082.6,139.6 M1075.8,137 L1076.0,152 M1088.2,137 L1088.0,152" stroke="#636363" stroke-width="0.45" fill="none"/>
<rect x="1080.7" y="128.2" width="2.6" height="2.6" fill="#f6efe9"/>
<ellipse cx="1082.0" cy="125.2" rx="3.1" ry="4.1" fill="#f6efe9" stroke="#5c5c5c" stroke-width="0.45"/><path d="M1080.5,124.9h0.9M1082.6,124.9h0.9" stroke="#666" stroke-width="0.5"/><path d="M1081.2,127.10000000000001h1.6" stroke="#a88" stroke-width="0.35"/>
<path d="M1078.5,125 Q1077.8,119.6 1081.6,119.4 Q1086.2,119.2 1085.5,125 Q1084.6,122.4 1082.4,122.6 Q1079.6,122.6 1078.5,125 Z" fill="#484848"/>
<path d="M1096.1999999999998,165.6 L1095.8,140 Q1095.6,133.6 1100.0,131.8 L1102.8,130.3 L1106.3999999999999,130.3 L1109.1999999999998,131.8 Q1113.6,133.6 1113.3999999999999,140 L1113.0,165.6 Z" fill="#8f8f8f" stroke="#5a5a5a" stroke-width="0.5"/>
<path d="M1102.6999999999998,130.2 L1104.6,134.6 L1106.5,130.2 Z" fill="#fff"/>
<path d="M1103.8,131.4 L1105.3999999999999,131.4 L1105.5,137.6 L1104.6,139 L1103.6999999999998,137.6 Z" fill="#e39a1c"/>
<path d="M1102.6999999999998,130.4 L1101.1999999999998,134 L1104.0,139.6 M1106.5,130.4 L1108.0,134 L1105.1999999999998,139.6 M1098.3999999999999,137 L1098.6,152 M1110.8,137 L1110.6,152" stroke="#636363" stroke-width="0.45" fill="none"/>
<rect x="1103.3" y="128.2" width="2.6" height="2.6" fill="#f6efe9"/>
<ellipse cx="1104.6" cy="125.2" rx="3.1" ry="4.1" fill="#f6efe9" stroke="#5c5c5c" stroke-width="0.45"/><path d="M1103.1,124.9h0.9M1105.1999999999998,124.9h0.9" stroke="#666" stroke-width="0.5"/><path d="M1103.8,127.10000000000001h1.6" stroke="#a88" stroke-width="0.35"/>
<path d="M1101.1,125 Q1100.3999999999999,119.6 1104.1999999999998,119.4 Q1108.8,119.2 1108.1,125 Q1107.1999999999998,122.4 1105.0,122.6 Q1102.1999999999998,122.6 1101.1,125 Z" fill="#484848"/>
<ellipse cx="1080.2" cy="151.4" rx="1.8" ry="1.3" fill="#f6efe9" stroke="#5c5c5c" stroke-width="0.4"/>
<ellipse cx="1106.6" cy="151.4" rx="1.8" ry="1.3" fill="#f6efe9" stroke="#5c5c5c" stroke-width="0.4"/>
<path d="M1060.8,154 Q1059.6,136 1066.0,135.4 Q1072.0,136 1071.6,151 L1068.6,151 L1068.6,141 L1063.4,141 L1063.6,154 Z" fill="#444"/>
<path d="M1054.0,165.6 Q1053.6,152 1060.4,149.2 L1064.0,148.4 L1068.0,148.4 L1071.6,149.4 Q1075.0,151 1074.8,165.6 Z" fill="#dbeef7" stroke="#7e8d96" stroke-width="0.5"/>
<path d="M1064.4,148.6 L1065.6,153 L1067.4,148.6 M1058.4,154 L1059.0,164 M1071.4,154 L1071.0,164 M1065.4,153 L1065.2,164" stroke="#8b9aa3" stroke-width="0.45" fill="none"/>
<ellipse cx="1066.2" cy="142.4" rx="2.9" ry="3.8" fill="#f6efe9" stroke="#5c5c5c" stroke-width="0.45"/><path d="M1064.7,142.1h0.9M1066.8,142.1h0.9" stroke="#666" stroke-width="0.5"/><path d="M1065.4,144.3h1.6" stroke="#a88" stroke-width="0.35"/>
<path d="M1062.6,142.6 Q1062.2,137.4 1066.2,137.4 Q1070.0,137.4 1069.6,142.6 Q1067.6,139.6 1062.6,142.6 Z" fill="#444"/>
<path d="M1061.4,142 L1061.2,156 L1063.4,156 L1063.0,144 Z" fill="#444"/>
<path d="M1131.5,158 L1131.5,151 Q1131.7,149.4 1133.5,149.4 L1135.5,149.4 Q1137.1,149.6 1137.1,152 L1137.3,160 Z" fill="#4c4c4c"/>
<path d="M1113.1,165.6 Q1112.7,153.4 1117.7,151 L1120.9,149.8 L1124.1,149.8 L1127.9,151 Q1136.1,153 1137.5,165.6 Z" fill="#f5f1a4" stroke="#8e8b4c" stroke-width="0.5"/>
<path d="M1120.9,149.8 L1122.5,156.4 L1124.1,149.8 Z" fill="#fff" stroke="#a9a66a" stroke-width="0.3"/>
<path d="M1116.7,155 L1117.1,164 M1130.5,156 L1130.9,164 M1122.5,156.4 L1122.5,164" stroke="#a3a05a" stroke-width="0.45" fill="none"/>
<ellipse cx="1122.6" cy="144.2" rx="3.2" ry="4.0" fill="#f6efe9" stroke="#5c5c5c" stroke-width="0.45"/><path d="M1121.1,143.89999999999998h0.9M1123.1999999999998,143.89999999999998h0.9" stroke="#666" stroke-width="0.5"/><path d="M1121.8,146.1h1.6" stroke="#a88" stroke-width="0.35"/>
<path d="M1117.9,147.6 Q1116.5,137.4 1122.7,137.2 Q1128.7,137.4 1127.3,147.6 Q1126.1,142 1123.5,141 Q1119.9,141 1119.1,143.6 Q1118.9,146 1117.9,147.6 Z" fill="#454545"/>
<path d="M1082.9,165.6 Q1082.3000000000002,150 1087.5,147.6 L1090.7,146.2 L1095.1000000000001,146.2 L1098.3000000000002,147.6 Q1103.9,150 1103.7,165.6 Z" fill="#3eabbb" stroke="#2b6f79" stroke-width="0.5"/>
<path d="M1090.6000000000001,146.2 L1092.9,151.4 L1095.2,146.2 Z" fill="#fff"/>
<path d="M1091.95,147.6 L1093.8500000000001,147.6 L1093.95,156.4 L1092.9,158.2 L1091.8500000000001,156.4 Z" fill="#e39a1c"/>
<path d="M1090.6000000000001,146.4 L1088.7,150.6 L1092.1000000000001,158.6 M1095.2,146.4 L1097.1000000000001,150.6 L1093.7,158.6 M1086.3000000000002,153 L1086.7,164 M1099.5,153 L1099.1000000000001,164" stroke="#2b7d88" stroke-width="0.45" fill="none"/>
<rect x="1091.6000000000001" y="144" width="2.6" height="2.6" fill="#f6efe9"/>
<ellipse cx="1092.9" cy="140.2" rx="3.2" ry="4.2" fill="#f6efe9" stroke="#5c5c5c" stroke-width="0.45"/><path d="M1091.4,139.89999999999998h0.9M1093.5,139.89999999999998h0.9" stroke="#666" stroke-width="0.5"/><path d="M1092.1000000000001,142.1h1.6" stroke="#a88" stroke-width="0.35"/>
<path d="M1089.1000000000001,141.4 Q1086.9,133 1092.3000000000002,131.6 Q1098.5,131.4 1097.3000000000002,139 Q1097.3000000000002,140.6 1096.5,141.2 Q1095.9,137.6 1093.9,137.8 Q1091.9,139 1090.3000000000002,137.8 Q1089.5,139.4 1089.1000000000001,141.4 Z" fill="#3c3c3c"/>
<ellipse cx="1058.8" cy="164.4" rx="2.4" ry="1.3" fill="#f6efe9" stroke="#5c5c5c" stroke-width="0.4"/>
<ellipse cx="1092.9" cy="164.4" rx="3" ry="1.4" fill="#f6efe9" stroke="#5c5c5c" stroke-width="0.4"/>
<ellipse cx="1123.4" cy="164.5" rx="2.6" ry="1.2" fill="#f6efe9" stroke="#5c5c5c" stroke-width="0.4"/>
</g>
<rect x="1047.5" y="165" width="101.5" height="1.2" fill="#cdc8cb"/>
</svg>
<div style="position:absolute;left:1066px;top:166.6px;width:62px;text-align:center;font-size:13.3px;line-height:22px;font-weight:500;letter-spacing:0.65px;color:#555;white-space:nowrap;text-indent:0.65px;">伴走支援</div>
<svg class="arrows" width="1190" height="603" viewBox="0 0 1190 603" aria-hidden="true"><rect x="874.3" y="102.5" width="281.2" height="100.4" fill="none" stroke="#7a7a7a" stroke-width="1.1"/></svg>

</div>
</body>
</html>
